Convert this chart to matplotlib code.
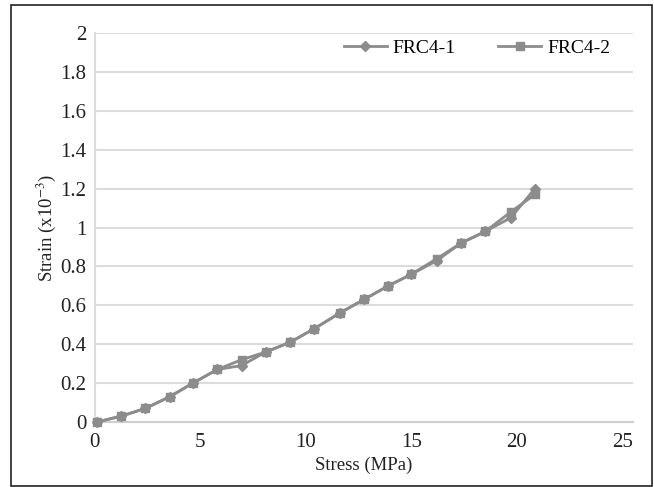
import matplotlib
matplotlib.use("Agg")
import matplotlib.pyplot as plt
from matplotlib.patches import Rectangle

# data
stress = [0.1, 1.25, 2.4, 3.55, 4.65, 5.8, 6.95, 8.1, 9.25, 10.4, 11.6, 12.75, 13.9, 15.0, 16.2, 17.35, 18.5, 19.7, 20.85]
frc4_1 = [0.0, 0.03, 0.07, 0.13, 0.20, 0.27, 0.29, 0.36, 0.41, 0.48, 0.56, 0.63, 0.70, 0.76, 0.83, 0.92, 0.98, 1.05, 1.20]
frc4_2 = [0.0, 0.03, 0.07, 0.13, 0.20, 0.27, 0.32, 0.36, 0.41, 0.48, 0.56, 0.63, 0.70, 0.76, 0.84, 0.92, 0.98, 1.08, 1.17]

x_ticks = [0, 5, 10, 15, 20, 25]
y_ticks = [0, 0.2, 0.4, 0.6, 0.8, 1, 1.2, 1.4, 1.6, 1.8, 2]
y_tick_labels = ["0", "0.2", "0.4", "0.6", "0.8", "1", "1.2", "1.4", "1.6", "1.8", "2"]

plt.rcParams.update({
    "font.family": ["Liberation Serif", "DejaVu Serif"],
    "mathtext.fontset": "stix",
})

LINE = "#8c8c8c"
GRID = "#dcdcdc"

fig = plt.figure(figsize=(6.54, 4.87), dpi=100)
ax = fig.add_axes([0.145, 0.1335, 0.823, 0.7985])

ax.plot(stress, frc4_1, "-", marker="D", color=LINE, lw=2.0, ms=5.5, label="FRC4-1", clip_on=False, zorder=3)
ax.plot(stress, frc4_2, "-", marker="s", color=LINE, lw=2.0, ms=6, label="FRC4-2", clip_on=False, zorder=3)

ax.set_xlim(0, 25.5)
ax.set_ylim(0, 2)
ax.set_xticks(x_ticks)
ax.set_yticks(y_ticks)
ax.set_yticklabels(y_tick_labels)
ax.tick_params(length=0, labelsize=15, colors="#222222", pad=6)
ax.tick_params(axis="x", pad=8)

ax.grid(axis="y", color=GRID, lw=1.5)
ax.set_axisbelow(True)
for side in ["top", "right"]:
    ax.spines[side].set_visible(False)
ax.spines["left"].set_color(GRID)
ax.spines["left"].set_linewidth(1.5)
ax.spines["bottom"].set_color("#cfcfcf")
ax.spines["bottom"].set_linewidth(1.5)

ax.set_xlabel("Stress (MPa)", fontsize=13.5, labelpad=3, color="#222222")
ax.set_ylabel("Strain (x10$^{-3}$)", fontsize=13.5, labelpad=2, color="#222222")

ax.legend(loc="upper right", bbox_to_anchor=(0.99, 1.03), ncol=2, frameon=False,
          fontsize=14, handlelength=2.2, columnspacing=2.2, handletextpad=0.3)

# outer border
fig.patches.append(Rectangle((11 / 654, 1 / 487), 641 / 654, 481 / 487, transform=fig.transFigure,
                             fill=False, edgecolor="#222222", lw=1.2))

plt.savefig("out.png", dpi=100)
plt.close()
